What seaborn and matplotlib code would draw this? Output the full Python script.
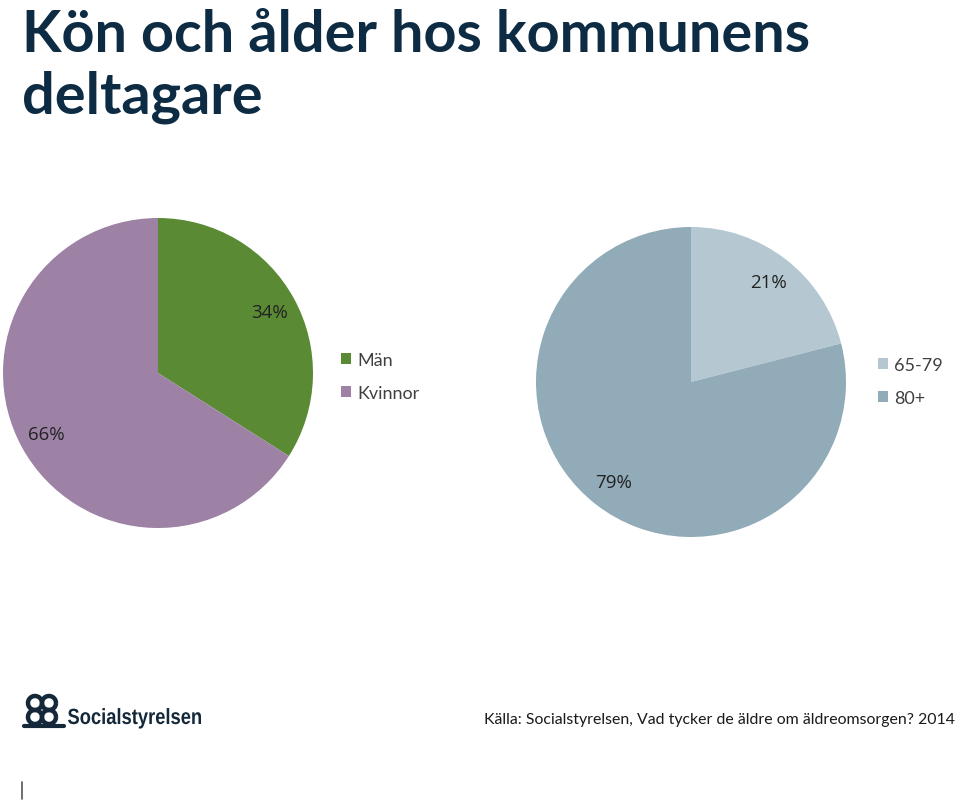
import numpy as np
import matplotlib
matplotlib.use("Agg")
import matplotlib.pyplot as plt
from matplotlib.patches import Arc, PathPatch
from matplotlib.textpath import TextPath
from matplotlib.font_manager import FontProperties
from matplotlib.transforms import Affine2D
import seaborn as sns

# data
gender_labels = ["Män", "Kvinnor"]
gender_values = [34, 66]
gender_colors = ["#5b8a35", "#9d82a6"]

age_labels = ["65-79", "80+"]
age_values = [21, 79]
age_colors = ["#b5c8d1", "#91abb8"]

title_lines = ["Kön och ålder hos kommunens", "deltagare"]
source = "Källa: Socialstyrelsen, Vad tycker de äldre om äldreomsorgen? 2014"

sns.set_theme(style="white")
plt.rcParams['font.family'] = ['Lato', 'DejaVu Sans']

W, H = 960, 804
fig = plt.figure(figsize=(W / 100, H / 100), dpi=100)
fig.patch.set_facecolor("white")


def px_axes(cx, cy, r):
    # axes box in pixel coords (top-left origin) around a pie center
    return fig.add_axes([(cx - r) / W, (H - cy - r) / H, 2 * r / W, 2 * r / H])


def draw_pie(cx, cy, r, values, colors):
    ax = px_axes(cx, cy, r)
    wedges, texts, autotexts = ax.pie(
        values, colors=colors, startangle=90, counterclock=False,
        autopct='%.0f%%', pctdistance=0.82, radius=1,
        wedgeprops=dict(linewidth=0),
        textprops=dict(fontsize=13.5, color="#222222", family=['Open Sans', 'DejaVu Sans']))
    ax.set_xlim(-1, 1)
    ax.set_ylim(-1, 1)
    ax.set_aspect("equal")
    ax.axis("off")
    return ax, wedges


ax1, w1 = draw_pie(158, 374, 155, gender_values, gender_colors)
ax2, w2 = draw_pie(691, 383, 155, age_values, age_colors)

leg_kw = dict(frameon=False, fontsize=13, labelcolor="#404040", loc="upper left",
              handlelength=0.55, handleheight=0.55, handletextpad=0.35,
              labelspacing=0.92, borderpad=0, borderaxespad=0)
fig.legend(w1, gender_labels, bbox_to_anchor=(341 / W, 1 - 353 / H), **leg_kw)
fig.legend(w2, age_labels, bbox_to_anchor=(878 / W, 1 - 358 / H), **leg_kw)

# title, two lines placed by baseline
for line, base in zip(title_lines, [52, 113]):
    fig.text(22 / W, 1 - base / H, line, ha="left", va="baseline", fontsize=41.5,
             fontweight="bold", color="#0d2c44")

# source
fig.text(955 / W, 1 - 720 / H, source, ha="right", va="center", fontsize=11.4,
         color="#1a1a1a")

# logo: simple symbol + condensed wordmark
navy = "#14283a"
logo = fig.add_axes([22 / W, (H - 730) / H, 44 / W, 38 / H])
logo.set_xlim(0, 44)
logo.set_ylim(0, 38)
logo.axis("off")
for x0 in (13, 27):
    logo.add_patch(Arc((x0, 26), 14, 14, theta1=0, theta2=360, lw=3.2, color=navy))
    logo.add_patch(Arc((x0, 12), 14, 14, theta1=0, theta2=360, lw=3.2, color=navy))
logo.plot([2, 42], [3, 3], color=navy, lw=3)

word = fig.add_axes([66 / W, (H - 732) / H, 140 / W, 30 / H])
word.set_xlim(0, 140)
word.set_ylim(0, 30)
word.axis("off")
tp = TextPath((0, 0), "Socialstyrelsen", size=22,
              prop=FontProperties(family="Liberation Sans", weight="bold"))
ext = tp.get_extents()
sx = 133 / ext.width
tp = Affine2D().translate(-ext.x0, 0).scale(sx, 1).translate(2, 7).transform_path(tp)
word.add_patch(PathPatch(tp, color=navy, lw=0))

# small mark at the bottom left
fig.add_artist(plt.Line2D([22 / W, 22 / W], [1 - 800 / H, 1 - 783 / H], color="#555555", lw=1.2))

fig.savefig("out.png", dpi=100, facecolor="white")
